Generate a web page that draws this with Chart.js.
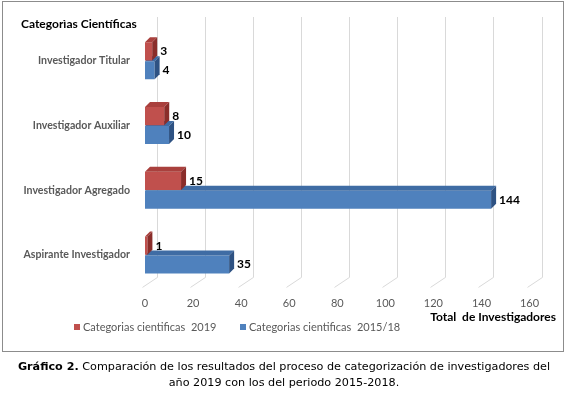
<!DOCTYPE html>
<html>
<head>
<meta charset="utf-8">
<script src="https://cdn.jsdelivr.net/npm/chart.js@4/dist/chart.umd.min.js"></script>
<style>
  body { margin: 0; width: 568px; height: 394px; background: #fff; position: relative; overflow: hidden; }
  #chart { position: absolute; left: 0; top: 0; }
  .frame { position: absolute; left: 2px; top: 1px; width: 560px; height: 349px; border: 1px solid #8c8c8c; pointer-events: none; }
  .caption { position: absolute; left: 0; top: 359px; width: 568px; text-align: center; font: 11.2px "DejaVu Sans", Verdana, sans-serif; line-height: 16px; color: #000; white-space: nowrap; }
</style>
</head>
<body>
<canvas id="chart" width="568" height="394"></canvas>
<div class="frame"></div>
<div class="caption"><b>Gráfico 2.</b> Comparación de los resultados del proceso de categorización de investigadores del<br>año 2019 con los del periodo 2015-2018.</div>
<script>
const CATEGORIES = ['Investigador Titular', 'Investigador Auxiliar', 'Investigador Agregado', 'Aspirante Investigador'];
const SERIES_LABELS = ['Categorias cientificas  2019', 'Categorias cientificas  2015/18'];
const VALUES_2019 = [3, 8, 15, 1];
const VALUES_2015_18 = [4, 10, 144, 35];
const X_TICKS = [0, 20, 40, 60, 80, 100, 120, 140, 160];
const Y_TITLE = 'Categorìas Científicas';
const X_TITLE = 'Total  de Investigadores';

const FRONT = ['#c0504d', '#4f81bd'];
const TOP = ['#a9403d', '#3f6ca4'];
const SIDE = ['#8a2d2a', '#2e5283'];
const DEPTH_X = 5, DEPTH_Y = -5;

Chart.defaults.font.family = 'Lato, "Open Sans", sans-serif';

// back wall gridlines with the little floor diagonals
const grid3d = {
  id: 'grid3d',
  beforeDatasetsDraw(chart) {
    const { ctx, chartArea, scales: { x } } = chart;
    ctx.save();
    ctx.strokeStyle = '#d9d9d9';
    ctx.lineWidth = 1;
    for (const t of x.ticks) {
      const px = Math.round(x.getPixelForValue(t.value)) + 0.5;
      ctx.beginPath();
      ctx.moveTo(px - 3, chartArea.bottom);
      ctx.lineTo(px + 12, chartArea.bottom - 10);
      ctx.lineTo(px + 12, 17);
      ctx.stroke();
    }
    ctx.restore();
  }
};

// top and side faces of each bar
const bars3d = {
  id: 'bars3d',
  afterDatasetDraw(chart, args) {
    const { ctx } = chart;
    const i = args.index;
    ctx.save();
    for (const el of args.meta.data) {
      const top = el.y - el.height / 2, bot = el.y + el.height / 2;
      ctx.fillStyle = TOP[i];
      ctx.beginPath();
      ctx.moveTo(el.base, top);
      ctx.lineTo(el.x, top);
      ctx.lineTo(el.x + DEPTH_X, top + DEPTH_Y);
      ctx.lineTo(el.base + DEPTH_X, top + DEPTH_Y);
      ctx.closePath();
      ctx.fill();
      ctx.fillStyle = SIDE[i];
      ctx.beginPath();
      ctx.moveTo(el.x, top);
      ctx.lineTo(el.x + DEPTH_X, top + DEPTH_Y);
      ctx.lineTo(el.x + DEPTH_X, bot + DEPTH_Y);
      ctx.lineTo(el.x, bot);
      ctx.closePath();
      ctx.fill();
    }
    ctx.restore();
  }
};

const valueLabels = {
  id: 'valueLabels',
  afterDatasetsDraw(chart) {
    const { ctx } = chart;
    ctx.save();
    ctx.font = 'bold 12px Lato, sans-serif';
    ctx.fillStyle = '#000';
    ctx.textBaseline = 'middle';
    chart.data.datasets.forEach((ds, i) => {
      chart.getDatasetMeta(i).data.forEach((el, j) => {
        ctx.fillText(String(ds.data[j]), el.x + 8, el.y);
      });
    });
    ctx.restore();
  }
};

const bottomLegend = {
  id: 'bottomLegend',
  afterDraw(chart) {
    const { ctx } = chart;
    const starts = [74, 240];
    ctx.save();
    ctx.font = '11px Lato, sans-serif';
    ctx.textBaseline = 'middle';
    chart.data.datasets.forEach((ds, i) => {
      ctx.fillStyle = FRONT[i];
      ctx.fillRect(starts[i], 324, 6, 6);
      ctx.fillStyle = '#595959';
      ctx.fillText(ds.label, starts[i] + 9, 327);
    });
    ctx.restore();
  }
};

new Chart(document.getElementById('chart'), {
  type: 'bar',
  data: {
    labels: CATEGORIES,
    datasets: [
      { label: SERIES_LABELS[0], data: VALUES_2019, backgroundColor: FRONT[0] },
      { label: SERIES_LABELS[1], data: VALUES_2015_18, backgroundColor: FRONT[1] },
    ],
  },
  options: {
    indexAxis: 'y',
    responsive: false,
    animation: false,
    devicePixelRatio: 1,
    categoryPercentage: 0.58,
    barPercentage: 0.96,
    layout: { padding: { left: 21, right: 12, top: 0, bottom: 70 } },
    plugins: {
      legend: { display: false },
      tooltip: { enabled: false },
      title: {
        display: true, text: Y_TITLE, align: 'start', color: '#000',
        font: { size: 12, weight: 'bold' }, padding: { top: 17, bottom: -3 },
      },
    },
    scales: {
      x: {
        min: 0, max: 171,
        afterBuildTicks: s => { s.ticks = X_TICKS.map(v => ({ value: v })); },
        grid: { display: false, drawTicks: false },
        border: { display: false },
        ticks: { color: '#595959', font: { size: 11 }, padding: 9 },
        title: { display: true, text: X_TITLE, align: 'end', color: '#000', font: { size: 12, weight: 'bold' }, padding: { top: -9, bottom: 0 } },
      },
      y: {
        afterFit: s => { s.width = 124; },
        grid: { display: false, drawTicks: false },
        border: { display: false },
        ticks: { color: '#595959', font: { size: 10.6, weight: 'bold' }, padding: 15 },
      },
    },
  },
  plugins: [grid3d, bars3d, valueLabels, bottomLegend],
});
</script>
</body>
</html>
